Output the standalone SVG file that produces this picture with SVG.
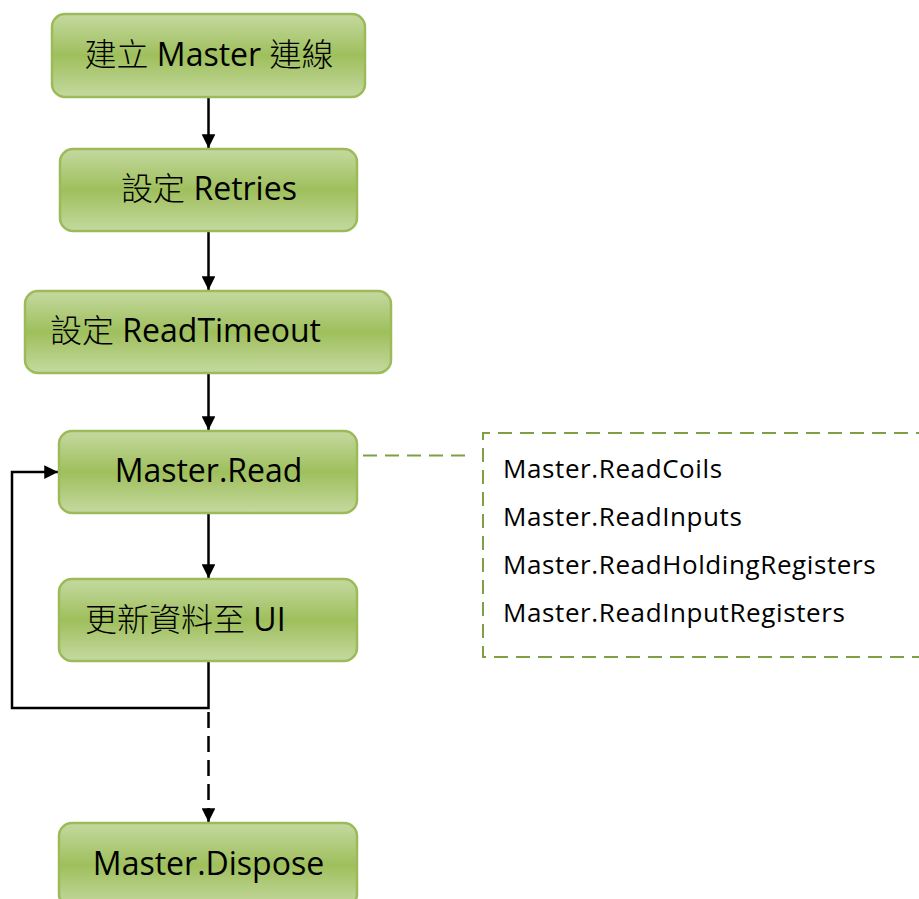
<svg xmlns="http://www.w3.org/2000/svg" width="919" height="899" viewBox="0 0 919 899">
<style>
.node rect{fill:url(#g);stroke:#9bbb59;stroke-width:2.5}
.node text{font-family:"Open Sans","Noto Sans CJK TC",sans-serif;font-size:32px;fill:#000}
.cjk{font-family:"Noto Sans CJK TC",sans-serif;font-weight:300}
.conn{fill:none;stroke:#000;stroke-width:2.5}
.list{font-family:"Open Sans",sans-serif;font-size:26px;letter-spacing:0.6px;fill:#000}
.gd{fill:none;stroke:#7f9f45;stroke-width:2;stroke-dasharray:14 8}
</style>
<defs>
<linearGradient id="g" x1="0" y1="0" x2="0" y2="1">
<stop offset="0" stop-color="#c4d9a0"/>
<stop offset="0.5" stop-color="#9fbf5c"/>
<stop offset="1" stop-color="#c4d9a0"/>
</linearGradient>
<marker id="ah" viewBox="0 0 10 10" refX="10" refY="5" markerWidth="5.5" markerHeight="5.5" markerUnits="strokeWidth" orient="auto">
<path d="M0,0 L10,5 L0,10 z" fill="#000"/>
</marker>
</defs>
<g id="connectors">
<path class="conn" d="M208.5,97 V148" marker-end="url(#ah)"/>
<path class="conn" d="M208.5,231 V290" marker-end="url(#ah)"/>
<path class="conn" d="M208.5,373 V430" marker-end="url(#ah)"/>
<path class="conn" d="M208.5,513 V578" marker-end="url(#ah)"/>
<path class="conn" d="M208.5,661 V708 H12 V472 H58" marker-end="url(#ah)"/>
<path class="conn" d="M208.5,712 V822" stroke-dasharray="16 8" marker-end="url(#ah)"/>
<path class="gd" d="M363,455.5 H470"/>
</g>
<g id="n1" class="node"><rect x="52" y="14" width="313" height="83" rx="13"/><text x="209" y="66" text-anchor="middle"><tspan class="cjk">建立</tspan> Master <tspan class="cjk">連線</tspan></text></g>
<g id="n2" class="node"><rect x="60" y="149" width="297" height="82" rx="13"/><text x="209" y="200" text-anchor="middle"><tspan class="cjk">設定</tspan> Retries</text></g>
<g id="n3" class="node"><rect x="25" y="291" width="366" height="82" rx="13"/><text x="50" y="342"><tspan class="cjk">設定</tspan> ReadTimeout</text></g>
<g id="n4" class="node"><rect x="59" y="431" width="298" height="82" rx="13"/><text x="208.5" y="482" text-anchor="middle">Master.Read</text></g>
<g id="n5" class="node"><rect x="59" y="579" width="298" height="82" rx="13"/><text x="85" y="631"><tspan class="cjk">更新資料至</tspan> UI</text></g>
<g id="n6" class="node"><rect x="59" y="823" width="298" height="84" rx="13"/><text x="208.5" y="875" text-anchor="middle">Master.Dispose</text></g>
<g id="list">
<path class="gd" d="M930,433 H483 V657 H930"/>
<text class="list" x="503" y="478">Master.ReadCoils</text>
<text class="list" x="503" y="526">Master.ReadInputs</text>
<text class="list" x="503" y="574">Master.ReadHoldingRegisters</text>
<text class="list" x="503" y="622">Master.ReadInputRegisters</text>
</g>
</svg>
